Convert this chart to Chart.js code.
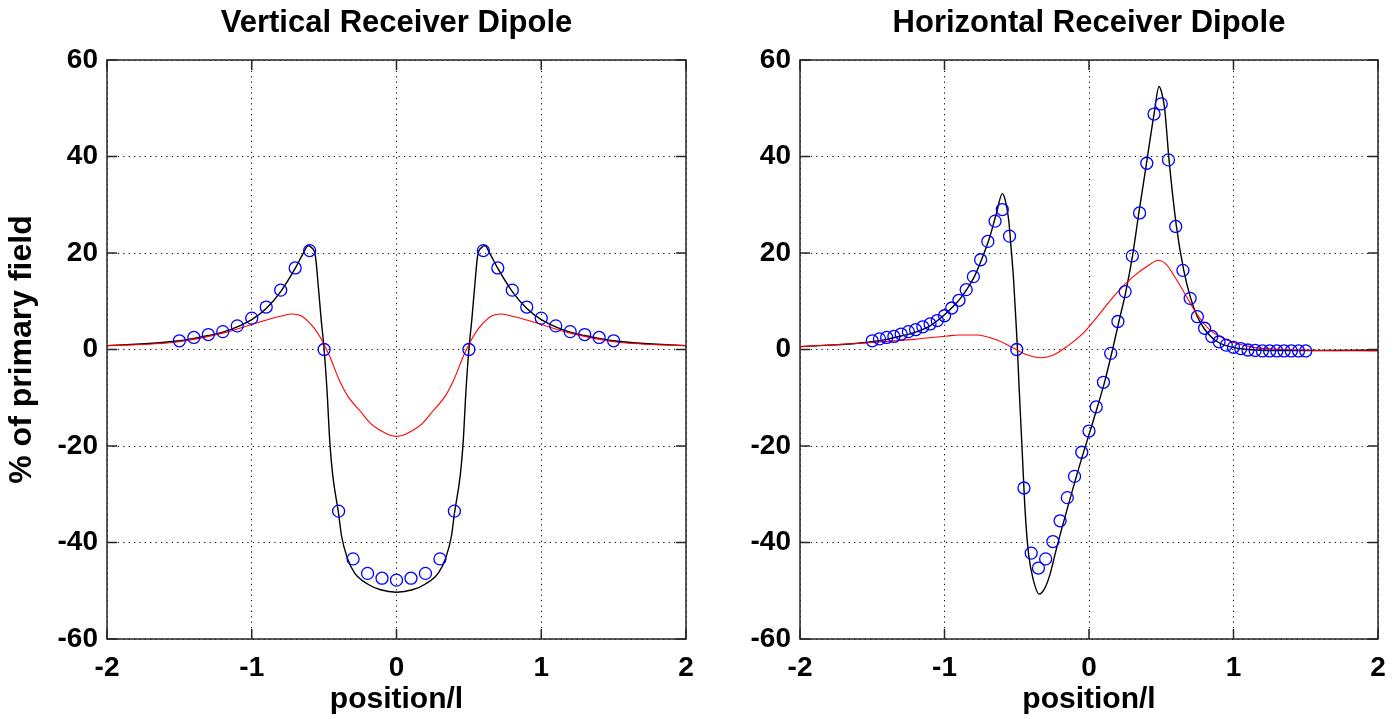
<!DOCTYPE html>
<html>
<head>
<meta charset="utf-8">
<script src="https://cdn.jsdelivr.net/npm/chart.js@4.4.1/dist/chart.umd.min.js"></script>
<style>
  html, body { margin: 0; padding: 0; background: #fff; overflow: hidden; }
  #wrap { position: relative; width: 1398px; height: 719px; }
  canvas { position: absolute; top: 0; }
</style>
</head>
<body>
<div id="wrap">
  <canvas id="vertical" width="700" height="719" style="left:0px"></canvas>
  <canvas id="horizontal" width="698" height="719" style="left:700px"></canvas>
</div>
<script>
// tick labels
const xTicks = [-2, -1, 0, 1, 2];
const yTicks = [-60, -40, -20, 0, 20, 40, 60];

// ---- Vertical receiver dipole ----
const vertBlackX = [-2, -1.8, -1.6, -1.5, -1.4, -1.3, -1.2, -1.1, -1.0, -0.9, -0.8, -0.7, -0.65, -0.61, -0.59, -0.56, -0.54, -0.52, -0.5, -0.48, -0.46, -0.44, -0.4, -0.38, -0.34, -0.29, -0.2, -0.11, 0,
                    0.11, 0.2, 0.29, 0.34, 0.38, 0.4, 0.44, 0.46, 0.48, 0.5, 0.52, 0.54, 0.56, 0.59, 0.61, 0.65, 0.7, 0.8, 0.9, 1.0, 1.1, 1.2, 1.3, 1.4, 1.5, 1.6, 1.8, 2];
const vertBlackY = [0.8, 1.1, 1.5, 1.8, 2.3, 2.9, 3.6, 4.7, 6.2, 8.5, 12.0, 16.8, 19.6, 21.5, 21.2, 19.3, 13.0, 6.1, 0, -8.5, -19.5, -26.2, -34, -38.6, -43.2, -46.3, -48.6, -49.8, -50.3,
                    -49.8, -48.6, -46.3, -43.2, -38.6, -34, -26.2, -19.5, -8.5, 0, 6.1, 13.0, 19.3, 21.2, 21.5, 19.6, 16.8, 12.0, 8.5, 6.2, 4.7, 3.6, 2.9, 2.3, 1.8, 1.5, 1.1, 0.8];

const vertRedX = [-2, -1.8, -1.6, -1.5, -1.2, -1.0, -0.9, -0.8, -0.72, -0.66, -0.62, -0.57, -0.53, -0.5, -0.46, -0.4, -0.34, -0.25, -0.18, -0.11, -0.05, 0,
                  0.05, 0.11, 0.18, 0.25, 0.34, 0.4, 0.46, 0.5, 0.53, 0.57, 0.62, 0.66, 0.72, 0.8, 0.9, 1.0, 1.2, 1.5, 1.6, 1.8, 2];
const vertRedY = [0.8, 1.0, 1.3, 1.6, 3.4, 5.2, 6.1, 6.9, 7.35, 7.0, 6.1, 4.5, 2.7, 1.0, -1.5, -6.0, -9.5, -12.8, -15.3, -16.8, -17.7, -18.0,
                  -17.7, -16.8, -15.3, -12.8, -9.5, -6.0, -1.5, 1.0, 2.7, 4.5, 6.1, 7.0, 7.35, 6.9, 6.1, 5.2, 3.4, 1.6, 1.3, 1.0, 0.8];

const vertCircleX = [-1.5, -1.4, -1.3, -1.2, -1.1, -1.0, -0.9, -0.8, -0.7, -0.6, -0.5, -0.4, -0.3, -0.2, -0.1, 0,
                     0.1, 0.2, 0.3, 0.4, 0.5, 0.6, 0.7, 0.8, 0.9, 1.0, 1.1, 1.2, 1.3, 1.4, 1.5];
const vertCircleY = [1.8, 2.5, 3.1, 3.7, 4.9, 6.5, 8.8, 12.3, 16.9, 20.5, 0, -33.5, -43.4, -46.4, -47.4, -47.8,
                     -47.4, -46.4, -43.4, -33.5, 0, 20.5, 16.9, 12.3, 8.8, 6.5, 4.9, 3.7, 3.1, 2.5, 1.8];

// ---- Horizontal receiver dipole ----
const horBlackX = [-2, -1.8, -1.6, -1.5, -1.4, -1.3, -1.2, -1.1, -1.0, -0.94, -0.89, -0.84, -0.79, -0.74, -0.69, -0.64, -0.6, -0.58, -0.556, -0.54, -0.522, -0.506, -0.495, -0.485, -0.464, -0.441, -0.418, -0.384, -0.345, -0.303, -0.269, -0.223, -0.154, -0.062, 0.03, 0.11, 0.163,
                   0.207, 0.255, 0.301, 0.345, 0.398, 0.45, 0.485, 0.505, 0.524, 0.554, 0.605, 0.655, 0.703, 0.75, 0.8, 0.85, 0.9, 0.95, 1.0, 1.1, 1.3, 1.6, 2];
const horBlackY = [0.6, 0.9, 1.3, 1.6, 2.1, 2.8, 3.6, 4.9, 7.2, 8.9, 10.6, 12.7, 15.3, 18.9, 23.0, 28.3, 32.3, 31.0, 26.9, 21.4, 14.5, 6.1, 0, -7, -20, -34, -42.4, -47.9, -50.7, -49.3, -46.5, -41, -33.4, -23.7, -14.7, -6.5, 0,
                   5.8, 12.0, 19.4, 28.3, 38.6, 48.8, 54.5, 53.0, 49.8, 39.3, 25.5, 16.5, 10.7, 6.8, 4.2, 2.5, 1.4, 0.8, 0.4, 0, -0.2, -0.2, -0.1];

const horRedX = [-2, -1.58, -1.21, -0.98, -0.9, -0.78, -0.64, -0.52, -0.43, -0.33, -0.25, -0.154, -0.04, 0.076, 0.191, 0.306, 0.421, 0.478, 0.536, 0.605, 0.674, 0.743, 0.834, 0.95, 1.11, 1.34, 2];
const horRedY = [0.6, 1.3, 2.1, 2.8, 3.0, 3.0, 2.0, 0.25, -1.1, -1.7, -1.2, 0.6, 3.4, 7.5, 11.7, 15.1, 17.6, 18.5, 17.6, 14.5, 11.0, 7.5, 4.1, 2.0, 0.6, 0, -0.3];

const horCircleX = [-1.5, -1.45, -1.4, -1.35, -1.3, -1.25, -1.2, -1.15, -1.1, -1.05, -1.0, -0.95, -0.9, -0.85, -0.8, -0.75, -0.7, -0.65, -0.6, -0.55,
                    -0.5, -0.45, -0.4, -0.35, -0.3, -0.25, -0.2, -0.15, -0.1, -0.05, 0, 0.05, 0.1, 0.15, 0.2, 0.25, 0.3, 0.35, 0.4, 0.45,
                    0.5, 0.55, 0.6, 0.65, 0.7, 0.75, 0.8, 0.85, 0.9, 0.95, 1.0, 1.05, 1.1, 1.15, 1.2, 1.25, 1.3, 1.35, 1.4, 1.45, 1.5];
const horCircleY = [1.8, 2.2, 2.5, 2.7, 3.2, 3.7, 4.1, 4.7, 5.3, 6.0, 7.0, 8.6, 10.2, 12.4, 15.1, 18.6, 22.4, 26.6, 29.0, 23.5,
                    0, -28.7, -42.2, -45.3, -43.4, -39.8, -35.5, -30.7, -26.3, -21.3, -16.9, -11.9, -6.8, -0.8, 5.8, 12.0, 19.4, 28.3, 38.6, 48.8,
                    50.9, 39.3, 25.5, 16.4, 10.6, 6.8, 4.4, 2.7, 1.6, 0.9, 0.45, 0.2, -0.1, -0.2, -0.3, -0.3, -0.3, -0.3, -0.3, -0.3, -0.3];

const FONT = '"Liberation Sans", Arial, sans-serif';

function pts(xs, ys) {
    return xs.map((x, i) => ({ x: x, y: ys[i] }));
}

// box around the plot area plus inward tick marks, like a matlab axes
const axesBox = {
    id: 'axesBox',
    afterDatasetsDraw(chart) {
        const { ctx, chartArea: a, scales } = chart;
        const len = 10;
        ctx.save();
        ctx.strokeStyle = '#262626';
        ctx.lineWidth = 1.5;
        ctx.beginPath();
        scales.x.ticks.forEach(t => {
            const px = scales.x.getPixelForValue(t.value);
            ctx.moveTo(px, a.bottom); ctx.lineTo(px, a.bottom - len);
            ctx.moveTo(px, a.top); ctx.lineTo(px, a.top + len);
        });
        scales.y.ticks.forEach(t => {
            const py = scales.y.getPixelForValue(t.value);
            ctx.moveTo(a.left, py); ctx.lineTo(a.left + len, py);
            ctx.moveTo(a.right, py); ctx.lineTo(a.right - len, py);
        });
        ctx.stroke();
        ctx.strokeRect(a.left, a.top, a.right - a.left, a.bottom - a.top);
        ctx.restore();
    }
};

function makeChart(id, title, black, red, circles, yWidth, padRight, showYTitle) {
    return new Chart(document.getElementById(id), {
        type: 'scatter',
        data: {
            datasets: [
                {
                    data: circles,
                    showLine: false,
                    pointStyle: 'circle',
                    pointRadius: 6,
                    pointBorderWidth: 1.3,
                    pointBorderColor: '#0000ff',
                    pointBackgroundColor: 'rgba(0,0,0,0)',
                    order: 1
                },
                {
                    data: red,
                    showLine: true,
                    cubicInterpolationMode: 'monotone',
                    borderColor: '#ff0000',
                    borderWidth: 1.1,
                    pointRadius: 0,
                    order: 2
                },
                {
                    data: black,
                    showLine: true,
                    cubicInterpolationMode: 'monotone',
                    borderColor: '#000000',
                    borderWidth: 1.4,
                    pointRadius: 0,
                    order: 3
                }
            ]
        },
        options: {
            responsive: false,
            animation: false,
            devicePixelRatio: 1,
            layout: { padding: { left: 0, right: padRight, top: 0, bottom: 0 } },
            plugins: {
                legend: { display: false },
                tooltip: { enabled: false },
                title: {
                    display: true,
                    text: title,
                    fullSize: false,
                    color: '#000',
                    font: { family: FONT, size: 31, weight: 'bold' },
                    padding: { top: 5, bottom: 17.8 }
                }
            },
            scales: {
                x: {
                    type: 'linear',
                    min: -2,
                    max: 2,
                    afterBuildTicks: s => { s.ticks = xTicks.map(v => ({ value: v })); },
                    afterFit: s => { s.height = 80; s.paddingLeft = 0; s.paddingRight = 0; },
                    grid: { color: '#000', lineWidth: 1, drawTicks: false },
                    border: { display: false, dash: [1.2, 4.2] },
                    ticks: { color: '#000', padding: 12, font: { family: FONT, size: 28, weight: 'bold' } },
                    title: {
                        display: true,
                        text: 'position/l',
                        color: '#000',
                        font: { family: FONT, size: 30, weight: 'bold' },
                        padding: { top: 0, bottom: 1 }
                    }
                },
                y: {
                    type: 'linear',
                    min: -60,
                    max: 60,
                    afterBuildTicks: s => { s.ticks = yTicks.map(v => ({ value: v })); },
                    afterFit: s => { s.width = yWidth; },
                    grid: { color: '#000', lineWidth: 1, drawTicks: false },
                    border: { display: false, dash: [1.2, 4.2] },
                    ticks: { color: '#000', padding: 9, font: { family: FONT, size: 28, weight: 'bold' } },
                    title: {
                        display: showYTitle,
                        text: '% of primary field',
                        color: '#000',
                        font: { family: FONT, size: 32, weight: 'bold' },
                        padding: { top: 3, bottom: 0 }
                    }
                }
            }
        },
        plugins: [axesBox]
    });
}

makeChart('vertical', 'Vertical Receiver Dipole',
    pts(vertBlackX, vertBlackY), pts(vertRedX, vertRedY), pts(vertCircleX, vertCircleY), 107, 14, true);
makeChart('horizontal', 'Horizontal Receiver Dipole',
    pts(horBlackX, horBlackY), pts(horRedX, horRedY), pts(horCircleX, horCircleY), 100, 20, false);
</script>
</body>
</html>
